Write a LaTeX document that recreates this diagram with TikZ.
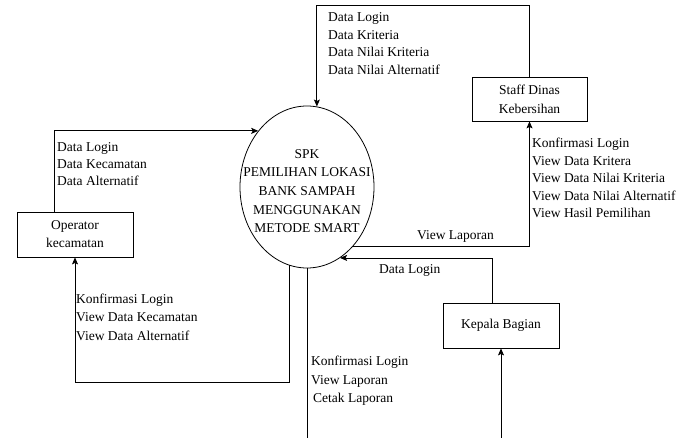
\documentclass[tikz,border=0pt]{standalone}
\usepackage{fontspec}
\setmainfont{Liberation Serif}
\usetikzlibrary{arrows.meta,shapes.geometric,calc}
\begin{document}
\begin{tikzpicture}[x=1pt,y=-1pt,
  every node/.style={font=\fontsize{13.5}{17.5}\selectfont},
  box/.style={draw,line width=0.8pt,align=center,inner sep=0pt},
  flow/.style={draw,line width=0.8pt},
  arr/.style={flow,-{Stealth[length=7pt,width=6pt,inset=1.5pt]}},
  lbl/.style={align=left,anchor=north west,inner sep=0pt},
  lblone/.style={anchor=base west,inner sep=0pt}]
\useasboundingbox (0,0) rectangle (693,438);

% process
\node[draw,ellipse,line width=0.8pt,minimum width=134pt,minimum height=162pt,inner sep=0pt,
  label={[name=spkt,align=center,inner sep=0pt,yshift=-4pt,font=\fontsize{13.5}{18.7}\selectfont]center:SPK\\PEMILIHAN LOKASI\\BANK SAMPAH\\MENGGUNAKAN\\METODE SMART}]
  (spk) at (307,187) {};

% entities
\node[box,minimum width=116pt,minimum height=45pt,font=\fontsize{13.5}{18}\selectfont] (op) at (75,234.5) {Operator\\kecamatan};
\node[box,minimum width=115pt,minimum height=44pt,font=\fontsize{13.5}{19}\selectfont] (staff) at (529.5,99) {Staff Dinas\\Kebersihan};
\node[box,minimum width=116pt,minimum height=45pt] (kep) at (501,325.5) {Kepala Bagian};

\coordinate (mb) at (308,438);
\coordinate (kb) at (501,438);

% flows
\draw[arr] (staff.north) -- ++(0,-71) -| (spk.83);
\draw[arr] ($(op.north west)+(38,0)$) |- (spk.131);
\draw[arr] (spk.257) -- ++(0,117) -| (op.south);
\draw[flow] (spk.south) -- (spk.south |- mb);
\draw[arr] (kep.south |- kb) -- (kep.south);
\draw[arr] ($(kep.north)+(-9,0)$) |- (spk.295);
\draw[arr] (spk.308) -| (staff.south);

% labels
\node[lbl] (ltop) at (328,12.8) {Data Login\\Data Kriteria\\Data Nilai Kriteria\\Data Nilai Alternatif};
\node[lbl,font=\fontsize{13.5}{17}\selectfont] (lopin) at (57,142.8) {Data Login\\Data Kecamatan\\Data Alternatif};
\node[lbl] (lstaff) at (532,137.8) {Konfirmasi Login\\View Data Kritera\\View Data Nilai Kriteria\\View Data Nilai Alternatif\\View Hasil Pemilihan};
\node[lblone] (lview) at (417,240) {View Laporan};
\node[lblone] (ldl) at (379,273) {Data Login};
\node[lbl,font=\fontsize{13.5}{18.25}\selectfont] (lopout) at (76,293.8) {Konfirmasi Login\\View Data Kecamatan\\View Data Alternatif};
\node[lbl,font=\fontsize{13.5}{18.5}\selectfont] (lmid) at (311,355.8) {Konfirmasi Login\\View Laporan\\\hspace*{2pt}Cetak Laporan};
\end{tikzpicture}
\end{document}
